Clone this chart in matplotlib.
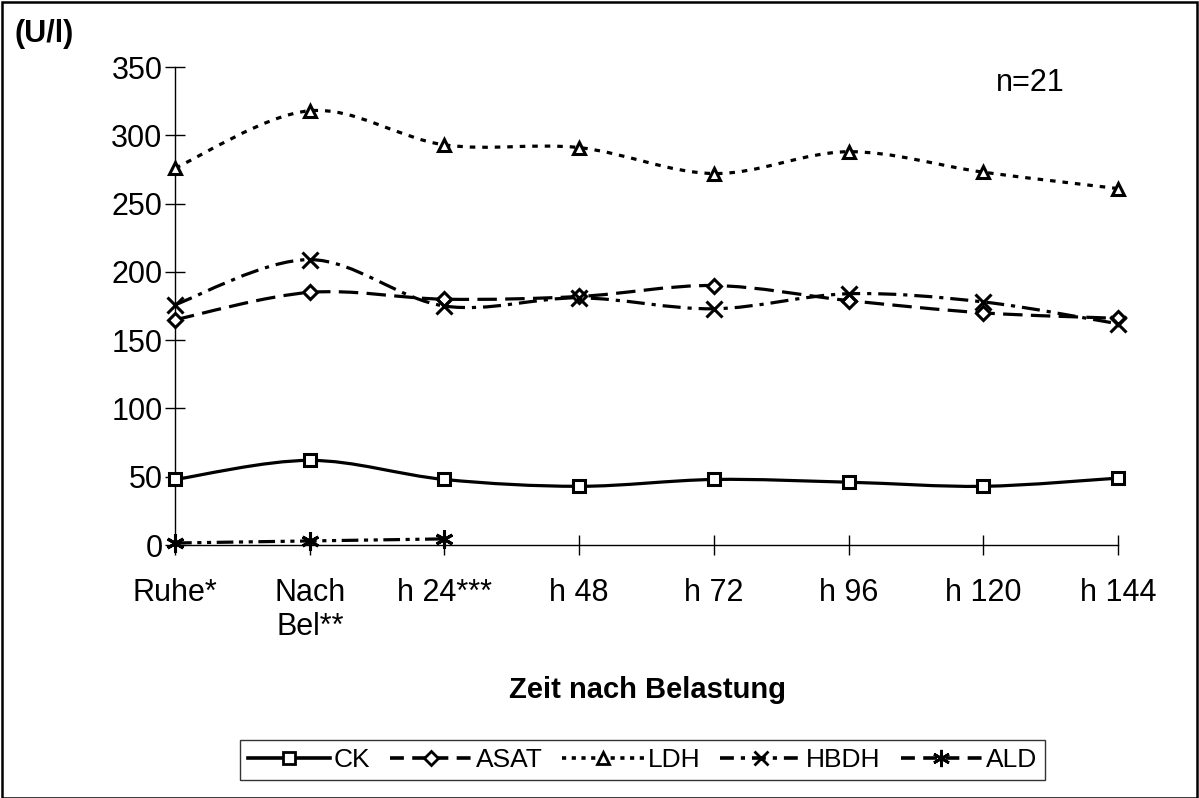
import matplotlib
matplotlib.use("Agg")
import matplotlib.pyplot as plt
from matplotlib.path import Path
from matplotlib.patches import PathPatch, Rectangle
from matplotlib.lines import Line2D
import numpy as np

plt.rcParams['font.family'] = ['Liberation Sans', 'DejaVu Sans']
plt.rcParams['lines.scale_dashes'] = False

categories = ["Ruhe*", "Nach\nBel**", "h 24***", "h 48", "h 72", "h 96", "h 120", "h 144"]
ck = [48, 62, 48, 43, 48, 46, 43, 49]
asat = [165, 185, 180, 182, 190, 179, 170, 166]
ldh = [276, 318, 293, 291, 272, 288, 273, 261]
hbdh = [176, 209, 175, 181, 173, 184, 178, 162]
ald = [1.5, 3, 4.5]

series = [
    ("CK", ck, 's', 'solid', 9),
    ("ASAT", asat, 'D', (0, (14, 6)), 7),
    ("LDH", ldh, '^', (0, (4, 5)), 9),
    ("HBDH", hbdh, 'x', (0, (13, 5, 3, 5)), 11),
    ("ALD", ald, (6, 2, 0), (0, (12, 4, 3, 4, 3, 4)), 13),
]
legend_dashes = {
    "CK": 'solid',
    "ASAT": (0, (10, 6)),
    "LDH": (0, (3, 4)),
    "HBDH": (0, (10, 5, 3, 5)),
    "ALD": (0, (10, 6)),
}

fig = plt.figure(figsize=(11.99, 7.98), dpi=100)
fig.patches.append(Rectangle((0.002, 0.0), 0.996, 0.997, transform=fig.transFigure,
                             fill=False, edgecolor='black', linewidth=1.8))
ax = fig.add_axes([0.146, 0.317, 0.7865, 0.599])


def smooth_path(xs, ys):
    pts = np.column_stack([xs, ys]).astype(float)
    n = len(pts)
    verts = [pts[0]]
    codes = [Path.MOVETO]
    for i in range(n - 1):
        p0 = pts[i - 1] if i > 0 else pts[i]
        p1 = pts[i]
        p2 = pts[i + 1]
        p3 = pts[i + 2] if i + 2 < n else pts[i + 1]
        c1 = p1 + (p2 - p0) / 6.0
        c2 = p2 - (p3 - p1) / 6.0
        verts += [c1, c2, p2]
        codes += [Path.CURVE4] * 3
    return Path(verts, codes)


handles = []
for name, vals, mk, ls, ms in series:
    xs = np.arange(len(vals))
    patch = PathPatch(smooth_path(xs, vals), fill=False, edgecolor='black',
                      linewidth=2.3, linestyle=ls, capstyle='butt', zorder=3)
    ax.add_patch(patch)
    ax.plot(xs, vals, linestyle='none', marker=mk, markersize=ms,
            markerfacecolor='white' if mk != 'x' else 'black',
            markeredgecolor='black', markeredgewidth=2.2, zorder=4, clip_on=False)
    handles.append(Line2D([], [], color='black', linewidth=2.6, linestyle=legend_dashes[name],
                          marker=mk, markersize=ms * 0.95,
                          markerfacecolor='white', markeredgecolor='black',
                          markeredgewidth=2.0, label=name))

ax.set_xlim(0, 7)
ax.set_ylim(0, 350)
ax.set_xticks(range(len(categories)))
ax.set_xticklabels(categories, linespacing=1.15)
ax.set_yticks(range(0, 351, 50))
for s in ['top', 'right']:
    ax.spines[s].set_visible(False)
for s in ['left', 'bottom']:
    ax.spines[s].set_linewidth(1.0)
ax.tick_params(axis='both', direction='inout', length=14, width=1.0, labelsize=22, color='black')
ax.tick_params(axis='x', pad=17)
ax.tick_params(axis='y', pad=2)

fig.text(0.012, 0.957, "(U/l)", fontsize=22, fontweight='bold', ha='left', va='center')
fig.text(0.859, 0.896, "n=21", fontsize=22, ha='center', va='center')
fig.text(0.54, 0.135, "Zeit nach Belastung", fontsize=21, fontweight='bold', ha='center', va='center')

leg = fig.legend(handles=handles, loc='center', bbox_to_anchor=(0.536, 0.0475), ncol=5,
                 fontsize=19, frameon=True, fancybox=False, handlelength=3.1,
                 handletextpad=0.15, columnspacing=0.75, borderpad=0.3, borderaxespad=0)
leg.get_frame().set_edgecolor('black')
leg.get_frame().set_linewidth(1.0)

fig.savefig("out.png", dpi=100)
